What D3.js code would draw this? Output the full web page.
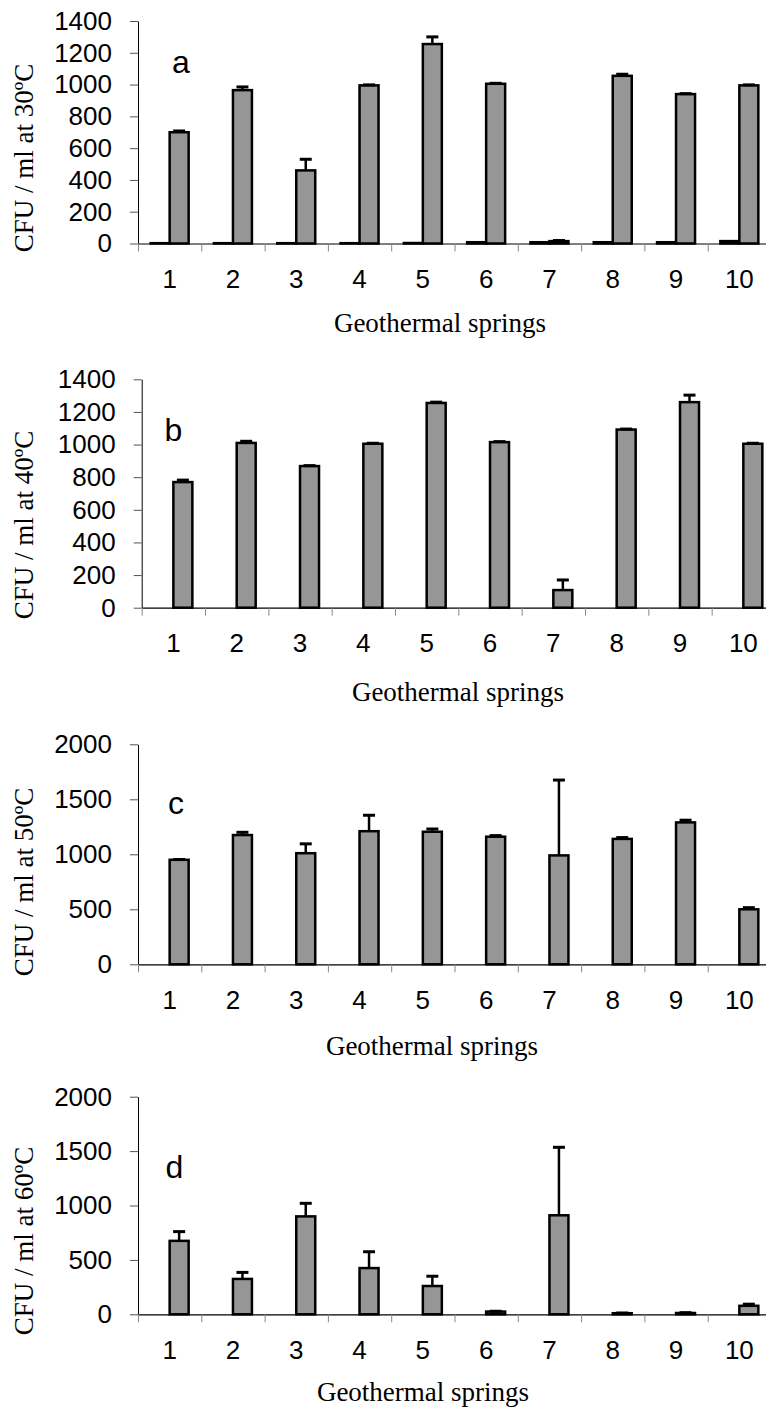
<!DOCTYPE html>
<html>
<head>
<meta charset="utf-8">
<script src="https://cdn.jsdelivr.net/npm/d3@7/dist/d3.min.js"></script>
<style>
  body { margin: 0; background: #fff; }
  .title { font-family: "Liberation Serif", "Times New Roman", serif; font-size: 27px; fill: #000; }
  .letter { font-family: "Liberation Sans", Arial, sans-serif; font-size: 32px; fill: #000; }
</style>
</head>
<body>
<div id="chart"></div>
<script>
  const springs = ["1", "2", "3", "4", "5", "6", "7", "8", "9", "10"];
  const series = ["low", "high"];

  // a: 30 C (two series), b-d: one series in the second slot
  const cfu30Low = [2, 2, 2, 2, 3, 8, 8, 8, 8, 15];
  const cfu30 = [700, 965, 460, 995, 1255, 1005, 15, 1055, 940, 995];
  const err30 = [8, 20, 70, 3, 45, 3, 4, 10, 3, 3];
  const cfu40 = [770, 1010, 868, 1005, 1255, 1015, 108, 1092, 1260, 1005];
  const err40 = [12, 10, 3, 3, 5, 3, 62, 3, 43, 3];
  const cfu50 = [950, 1175, 1010, 1210, 1205, 1160, 990, 1140, 1290, 500];
  const err50 = [3, 25, 85, 145, 25, 10, 685, 12, 20, 15];
  const cfu60 = [675, 325, 900, 425, 260, 25, 910, 10, 12, 78];
  const err60 = [85, 60, 120, 150, 90, 3, 625, 2, 3, 15];

  const ticks1400 = [0, 200, 400, 600, 800, 1000, 1200, 1400];
  const ticks2000 = [0, 500, 1000, 1500, 2000];
  const letters = ["a", "b", "c", "d"];
  const yTitles = ["CFU / ml at 30ºC", "CFU / ml at 40ºC", "CFU / ml at 50ºC", "CFU / ml at 60ºC"];
  const xTitle = "Geothermal springs";

  const panels = [
    {low: cfu30Low, high: cfu30, err: err30, ticks: ticks1400,
     x0: 138, x1: 771, yTop: 21, yBottom: 243.5,
     letter: [172, 73], yTitle: [33, 158], xTitle: [440, 332]},
    {low: null, high: cfu40, err: err40, ticks: ticks1400,
     x0: 141.7, x1: 775, yTop: 379.3, yBottom: 607.7,
     letter: [164.5, 441], yTitle: [33, 525], xTitle: [458, 701]},
    {low: null, high: cfu50, err: err50, ticks: ticks2000,
     x0: 138, x1: 771, yTop: 744.3, yBottom: 964.3,
     letter: [168, 813.5], yTitle: [33, 882], xTitle: [432, 1055]},
    {low: null, high: cfu60, err: err60, ticks: ticks2000,
     x0: 138, x1: 771, yTop: 1096.7, yBottom: 1314.3,
     letter: [165.5, 1178], yTitle: [33, 1241], xTitle: [423, 1401]}
  ];

  const svg = d3.select("#chart").append("svg")
    .attr("width", 766)
    .attr("height", 1408);

  function styleTicks(axis) {
    axis.attr("font-family", "'Liberation Sans', Arial, sans-serif")
      .attr("font-size", 26);
    axis.selectAll(".tick text").attr("fill", "#000");
  }

  panels.forEach(function (p, i) {
    const g = svg.append("g");

    const x = d3.scaleBand().domain(springs).range([p.x0, p.x1]);
    const xs = d3.scaleBand().domain(series).range([0, x.bandwidth()])
      .paddingInner(0).paddingOuter(0.667);
    const xEdge = d3.scaleLinear().domain([0, springs.length]).range([p.x0, p.x1]);
    const y = d3.scaleLinear().domain([0, d3.max(p.ticks)]).range([p.yBottom, p.yTop]);

    // y axis
    const yAxis = g.append("g")
      .attr("transform", "translate(" + p.x0 + ",0)")
      .call(d3.axisLeft(y).tickValues(p.ticks).tickFormat(d3.format("d"))
        .tickSize(8).tickSizeOuter(0).tickPadding(18));
    styleTicks(yAxis);
    yAxis.select(".domain").attr("stroke", "#000");
    yAxis.selectAll(".tick line").attr("stroke", "#555");

    // x axis: gray ticks at the category edges, labels at the centres
    const xTicks = g.append("g")
      .attr("transform", "translate(0," + p.yBottom + ")")
      .call(d3.axisBottom(xEdge).ticks(springs.length).tickSize(8).tickSizeOuter(0).tickFormat(""));
    xTicks.select(".domain").attr("stroke", "#000").attr("stroke-width", 1.2);
    xTicks.selectAll(".tick line").attr("stroke", "#888");

    const xLabels = g.append("g")
      .attr("transform", "translate(0," + p.yBottom + ")")
      .call(d3.axisBottom(x).tickSize(0).tickPadding(26));
    styleTicks(xLabels);
    xLabels.select(".domain").remove();

    // bars
    const rows = [];
    springs.forEach(function (s, j) {
      if (p.low) rows.push({s: s, k: "low", v: p.low[j], e: 0});
      rows.push({s: s, k: "high", v: p.high[j], e: p.err[j]});
    });

    g.selectAll("rect.bar").data(rows).enter().append("rect")
      .attr("class", "bar")
      .attr("x", d => x(d.s) + xs(d.k))
      .attr("width", xs.bandwidth())
      .attr("y", d => y(d.v))
      .attr("height", d => y(0) - y(d.v))
      .attr("fill", "#969696")
      .attr("stroke", "#000")
      .attr("stroke-width", 2.5);

    // error bars (upper only)
    const errs = g.selectAll("g.err").data(rows.filter(d => d.e > 0)).enter().append("g")
      .attr("class", "err");
    errs.append("line")
      .attr("x1", d => x(d.s) + xs(d.k) + xs.bandwidth() / 2)
      .attr("x2", d => x(d.s) + xs(d.k) + xs.bandwidth() / 2)
      .attr("y1", d => y(d.v))
      .attr("y2", d => y(d.v + d.e))
      .attr("stroke", "#000")
      .attr("stroke-width", 2.5);
    errs.append("line")
      .attr("x1", d => x(d.s) + xs(d.k) + xs.bandwidth() / 2 - 6)
      .attr("x2", d => x(d.s) + xs(d.k) + xs.bandwidth() / 2 + 6)
      .attr("y1", d => y(d.v + d.e))
      .attr("y2", d => y(d.v + d.e))
      .attr("stroke", "#000")
      .attr("stroke-width", 3);

    // texts
    g.append("text")
      .attr("class", "letter")
      .attr("x", p.letter[0])
      .attr("y", p.letter[1])
      .text(letters[i]);

    g.append("text")
      .attr("class", "title")
      .attr("text-anchor", "middle")
      .attr("transform", "translate(" + p.yTitle[0] + "," + p.yTitle[1] + ") rotate(-90)")
      .text(yTitles[i]);

    g.append("text")
      .attr("class", "title")
      .attr("text-anchor", "middle")
      .attr("x", p.xTitle[0])
      .attr("y", p.xTitle[1])
      .text(xTitle);
  });
</script>
</body>
</html>
